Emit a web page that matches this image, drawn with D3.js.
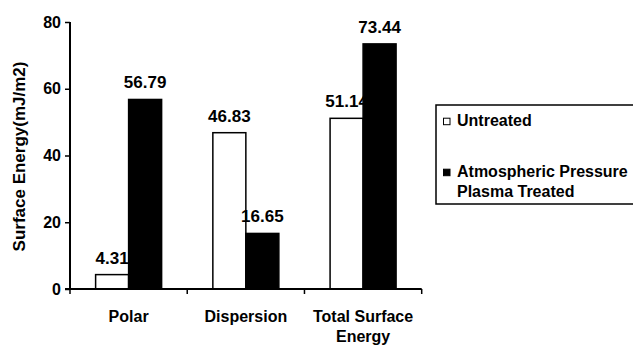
<!DOCTYPE html>
<html>
<head>
<meta charset="utf-8">
<script src="https://cdn.jsdelivr.net/npm/d3@7/dist/d3.min.js"></script>
<style>
html,body{margin:0;padding:0;background:#fff;overflow:hidden;}
svg{display:block;}
text{font-family:"Liberation Sans",Arial,sans-serif;font-weight:bold;fill:#000;}
</style>
</head>
<body>
<svg id="chart" width="633" height="349"></svg>
<script>
const categories = [["Polar"], ["Dispersion"], ["Total Surface", "Energy"]];
const categoryKeys = ["Polar", "Dispersion", "Total Surface Energy"];
const seriesNames = ["Untreated", "Atmospheric Pressure Plasma Treated"];
const legendLines = [["Untreated"], ["Atmospheric Pressure", "Plasma Treated"]];
const untreated = [4.31, 46.83, 51.14];
const plasmaTreated = [56.79, 16.65, 73.44];
const yTicks = [0, 20, 40, 60, 80];
const yTitle = "Surface Energy(mJ/m2)";

(function () {
const seriesValues = [untreated, plasmaTreated];
const fills = ["#fff", "#000"];

const svg = d3.select("#chart");
const mLeft = 70, mRight = 421.7, mTop = 22, mBottom = 289;

const x0 = d3.scaleBand().domain(categoryKeys).range([mLeft, mRight]).padding(0);
const bw = x0.bandwidth();
const x1 = d3.scaleBand().domain(seriesNames).range([bw * 0.2185, bw * 0.7815]).padding(0);
const y = d3.scaleLinear().domain([0, 80]).range([mBottom, mTop]);

// Bars
const groups = svg.append("g").selectAll("g").data(categoryKeys).join("g")
  .attr("transform", d => `translate(${x0(d)},0)`);

groups.each(function(cat, ci) {
  const g = d3.select(this);
  seriesNames.forEach((s, si) => {
    const v = seriesValues[si][ci];
    g.append("rect")
      .attr("x", x1(s))
      .attr("y", y(v))
      .attr("width", x1.bandwidth())
      .attr("height", y(0) - y(v))
      .attr("fill", fills[si])
      .attr("stroke", "#000")
      .attr("stroke-width", 1.5);
    g.append("text")
      .attr("x", x1(s) + x1.bandwidth() / 2)
      .attr("y", y(v) - 11)
      .attr("text-anchor", "middle")
      .style("font-size", "17px")
      .text(v.toFixed(2));
  });
});

// Y axis
const yAxis = d3.axisLeft(y).tickValues(yTicks).tickSize(5).tickPadding(4).tickFormat(d3.format("d"));
const gy = svg.append("g").attr("transform", `translate(${mLeft},0)`).call(yAxis);
gy.select(".domain").attr("stroke", "#000").attr("stroke-width", 2).attr("d", `M0,${y(80)}V${y(0)}`);
gy.selectAll(".tick line").attr("stroke", "#000").attr("stroke-width", 1.5);
gy.selectAll(".tick text").style("font-size", "16px").style("font-family", '"Liberation Sans",Arial,sans-serif').style("font-weight", "bold").attr("fill", "#000");

// X axis
const xTickPos = [mLeft].concat(categoryKeys.map(c => x0(c) + bw));
const gx = svg.append("g");
gx.append("line").attr("x1", mLeft - 5).attr("x2", mRight).attr("y1", mBottom).attr("y2", mBottom)
  .attr("stroke", "#000").attr("stroke-width", 2);
gx.selectAll("line.xt").data(xTickPos).join("line").attr("class", "xt")
  .attr("x1", d => d).attr("x2", d => d).attr("y1", mBottom).attr("y2", mBottom + 5)
  .attr("stroke", "#000").attr("stroke-width", 1.5);

categories.forEach((lines, ci) => {
  const cx = x0(categoryKeys[ci]) + bw / 2;
  const t = gx.append("text").attr("x", cx).attr("y", 322).attr("text-anchor", "middle").style("font-size", "16px");
  lines.forEach((ln, li) => {
    t.append("tspan").attr("x", cx).attr("dy", li === 0 ? 0 : 19.5).text(ln);
  });
});

// Y title
svg.append("text")
  .attr("transform", `translate(25,156.5) rotate(-90)`)
  .attr("text-anchor", "middle")
  .style("font-size", "17px")
  .text(yTitle);

// Legend
const lg = svg.append("g");
lg.append("rect").attr("x", 436).attr("y", 105).attr("width", 210).attr("height", 99)
  .attr("fill", "#fff").attr("stroke", "#000").attr("stroke-width", 1.5);
const legendY = [125.7, 176.7];
seriesNames.forEach((s, si) => {
  lg.append("rect").attr("x", 443.5).attr("y", legendY[si] - 7.5).attr("width", 6.5).attr("height", 6.5)
    .attr("fill", fills[si]).attr("stroke", "#000").attr("stroke-width", 1);
  const t = lg.append("text").attr("x", 457).attr("y", legendY[si]).style("font-size", "16px");
  legendLines[si].forEach((ln, li) => {
    t.append("tspan").attr("x", 457).attr("dy", li === 0 ? 0 : 20).text(ln);
  });
});
})();
</script>
</body>
</html>
